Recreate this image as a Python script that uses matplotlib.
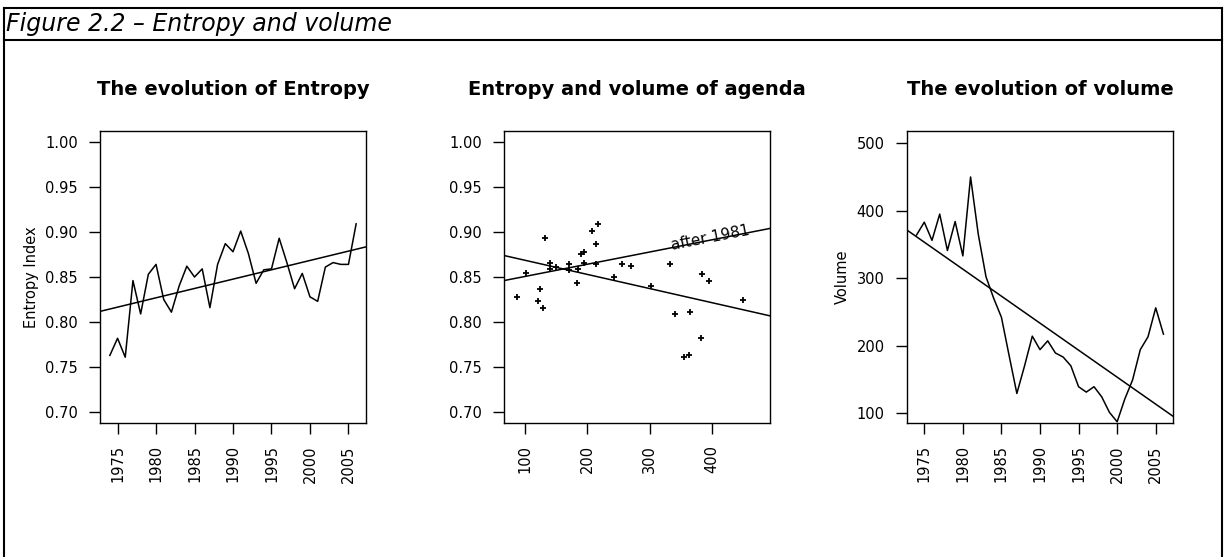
import numpy as np
import matplotlib
matplotlib.use("Agg")
import matplotlib.pyplot as plt
from matplotlib.lines import Line2D

# ---------------- data ----------------
years = list(range(1974, 2007))
entropy = [0.763, 0.782, 0.761, 0.846, 0.809, 0.853, 0.864, 0.825, 0.811, 0.840,
           0.862, 0.850, 0.859, 0.816, 0.864, 0.887, 0.878, 0.901, 0.876, 0.843,
           0.858, 0.859, 0.893, 0.866, 0.837, 0.854, 0.828, 0.823, 0.861, 0.866,
           0.864, 0.864, 0.909]
volume = [364, 383, 356, 395, 341, 384, 333, 450, 365, 302,
          270, 242, 185, 129, 170, 214, 194, 207, 189, 183,
          170, 139, 131, 139, 124, 101, 87, 121, 149, 194,
          213, 256, 217]

# "after 1981" regression line: intercept, slope
after_fit = [0.8372, 0.000135]

year_ticks = [1975, 1980, 1985, 1990, 1995, 2000, 2005]
entropy_ticks = [0.70, 0.75, 0.80, 0.85, 0.90, 0.95, 1.00]
volume_x_ticks = [100, 200, 300, 400]
volume_ticks = [100, 200, 300, 400, 500]

fig_title = "Figure 2.2 \u2013 Entropy and volume"
titles = ["The evolution of Entropy", "Entropy and volume of agenda", "The evolution of volume"]
after_label = "after 1981"

# ---------------- figure ----------------
W, H = 1226, 557
plt.rcParams['font.family'] = ['DejaVu Sans']
fig = plt.figure(figsize=(W / 100, H / 100), dpi=100)

def box(l, t, r, b):
    return [l / W, 1 - b / H, (r - l) / W, (b - t) / H]

def fline(x0, y0, x1, y1, lw=1.5):
    fig.add_artist(Line2D([x0 / W, x1 / W], [1 - y0 / H, 1 - y1 / H],
                          transform=fig.transFigure, color='black', lw=lw))

# frame of the figure caption
fline(4, 8, 1222, 8)
fline(4, 40, 1222, 40)
fline(4, 8, 4, 557)
fline(1222, 8, 1222, 557)
fig.text(6 / W, 1 - 24 / H, fig_title, fontsize=17, style='italic',
         ha='left', va='center')

tick_fs = 10.5
lw = 1.1

def style_axes(ax):
    for s in ax.spines.values():
        s.set_linewidth(1.0)
    ax.tick_params(direction='out', length=8, width=1.0, labelsize=tick_fs, pad=8)
    for lab in ax.get_xticklabels():
        lab.set_rotation(90)

yrs = np.array(years, dtype=float)
ent = np.array(entropy)
vol = np.array(volume, dtype=float)

# ---- panel 1 ----
ax1 = fig.add_axes(box(100, 131, 366, 423))
ax1.plot(yrs, ent, color='black', lw=lw)
b1, a1 = np.polyfit(yrs, ent, 1)
ax1.set_xlim(1972.72, 2007.28)
ax1.set_ylim(0.688, 1.012)
ax1.axline((1990, a1 + b1 * 1990), slope=b1, color='black', lw=lw)
ax1.set_xticks(year_ticks)
ax1.set_yticks(entropy_ticks)
ax1.set_yticklabels([f"{v:.2f}" for v in entropy_ticks])
ax1.set_ylabel("Entropy Index", fontsize=tick_fs, labelpad=4)
style_axes(ax1)

# ---- panel 2 ----
ax2 = fig.add_axes(box(504, 131, 770, 423))
ax2.plot(vol, ent, linestyle='none', marker='+', color='black', ms=4.5, mew=1.3)
ax2.set_xlim(65.5, 494)
ax2.set_ylim(0.688, 1.012)
b_all, a_all = np.polyfit(vol, ent, 1)
a_af, b_af = after_fit
ax2.axline((200, a_all + b_all * 200), slope=b_all, color='black', lw=lw)
ax2.axline((200, a_af + b_af * 200), slope=b_af, color='black', lw=lw)
ax2.set_xticks(volume_x_ticks)
ax2.set_yticks(entropy_ticks)
ax2.set_yticklabels([f"{v:.2f}" for v in entropy_ticks])
style_axes(ax2)
# label along the "after 1981" line
lx = 399
p1 = ax2.transData.transform((300, a_af + b_af * 300))
p2 = ax2.transData.transform((450, a_af + b_af * 450))
ang = np.degrees(np.arctan2(p2[1] - p1[1], p2[0] - p1[0]))
ax2.text(lx, a_af + b_af * lx - 0.003, after_label, rotation=ang,
         rotation_mode='anchor', ha='center', va='baseline', fontsize=11)

# ---- panel 3 ----
ax3 = fig.add_axes(box(907, 131, 1173, 423))
ax3.plot(yrs, vol, color='black', lw=lw)
b3, a3 = np.polyfit(yrs, vol, 1)
ax3.set_xlim(1972.76, 2007.24)
ax3.set_ylim(85.2, 518.2)
ax3.axline((1990, a3 + b3 * 1990), slope=b3, color='black', lw=lw)
ax3.set_xticks(year_ticks)
ax3.set_yticks(volume_ticks)
ax3.set_ylabel("Volume", fontsize=tick_fs, labelpad=5)
style_axes(ax3)

for ax, t in zip([ax1, ax2, ax3], titles):
    ax.set_title(t, fontsize=14, fontweight='bold', pad=26)

fig.savefig("out.png", dpi=100)
